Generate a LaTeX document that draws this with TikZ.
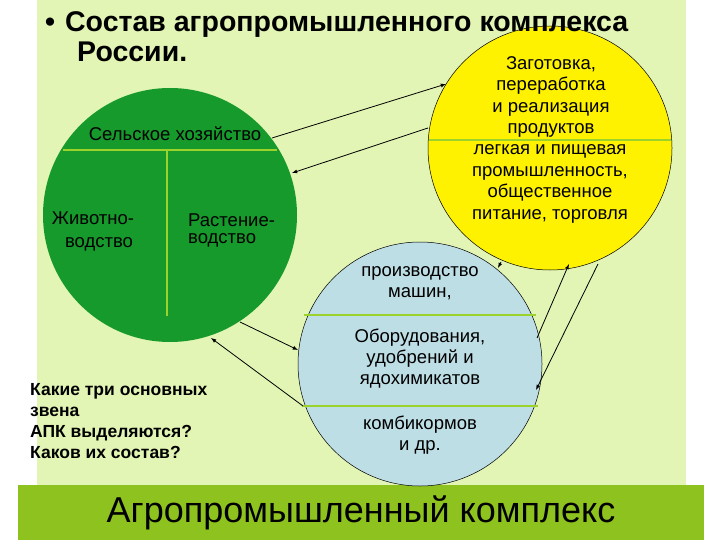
\documentclass[tikz,border=0pt]{standalone}
\usepackage{fontspec}
\setmainfont{Liberation Sans}
\begin{document}
\begin{tikzpicture}[x=1pt,y=-1pt,
 txt/.style={font=\fontsize{18.5}{21.5}\selectfont,align=center,inner sep=0},
 arr/.style={-latex,line width=0.8pt}]
\useasboundingbox (0,0) rectangle (720,540);
\fill[white] (0,0) rectangle (720,540);
\definecolor{bg}{HTML}{E2F5B4}
\fill[bg] (37,0) rectangle (686,485);
\definecolor{bar}{HTML}{8DC21F}
\fill[bar] (18,485) rectangle (704,540);
% circles
\definecolor{dg}{HTML}{169A2C}
\definecolor{ln}{HTML}{9BD32A}
\node[circle,fill=dg,minimum size=254pt,inner sep=0] (g) at (170,215) {};
\node[circle,draw,fill=yellow,minimum size=244pt,inner sep=0,line width=0.5pt] (y) at (550,148) {};
\node[circle,draw,fill={rgb,255:red,190;green,222;blue,230},minimum size=244pt,inner sep=0,line width=0.5pt] (b) at (420,364) {};
\draw[draw=ln,line width=2pt] (63,150) -- (277,150) (167,150) -- (167,316);
\draw[draw=ln,line width=1.5pt] (429,140) -- (671,140);
\draw[draw=ln,line width=1.5pt] (304,315) -- (536,315) (302,406) -- (538,406);
% texts
\node[txt] (t1) at (175,134) {Сельское хозяйство};
\node[txt] (t2) at (93,218) {Животно-};
\node[txt] (t3) at (99,244) {водство};
\node[txt,align=left,anchor=north west,font=\fontsize{18.5}{17}\selectfont] (t4) at (188,214) {Растение-\\водство};
\node[txt,font=\fontsize{18.5}{21.5}\selectfont] (ty1) at (551,97) {Заготовка,\\переработка\\и реализация\\продуктов};
\node[txt,font=\fontsize{18.5}{21.5}\selectfont] (ty2) at (550,184) {легкая и пищевая\\промышленность,\\общественное\\питание, торговля};
\node[txt,font=\fontsize{18.5}{21.5}\selectfont] (tb1) at (420,283) {производство\\машин,};
\node[txt,font=\fontsize{18.5}{21}\selectfont] (tb2) at (420,359) {Оборудования,\\удобрений и\\ядохимикатов};
\node[txt,font=\fontsize{18.5}{20.5}\selectfont] (tb3) at (420,435) {комбикормов\\и др.};
\node[anchor=west,inner sep=0,font=\bfseries\fontsize{28.5}{30}\selectfont,align=left] (ti) at (45,37) {•\hspace{10pt}Состав агропромышленного комплекса\\\hspace{32pt}России.};
\node[anchor=west,inner sep=0,font=\bfseries\fontsize{17.5}{21}\selectfont,align=left] (q) at (30,421) {Какие три основных\\звена\\АПК выделяются?\\Каков их состав?};
\node[inner sep=0,font=\fontsize{36}{38}\selectfont] (bt) at (361,513) {Агропромышленный комплекс};
% arrows
\coordinate (a1) at (272,138); \coordinate (a2) at (446,84);
\coordinate (a3) at (428,128); \coordinate (a4) at (292,173);
\coordinate (a5) at (240,322); \coordinate (a6) at (298,350);
\coordinate (a7) at (303,406); \coordinate (a8) at (211,338);
\coordinate (a9) at (537,338); \coordinate (a10) at (569,264);
\coordinate (a11) at (598,264); \coordinate (a12) at (536,390);
\coordinate (a13) at (501,262); \coordinate (a14) at (498,268);
\draw[arr] (a1) -- (a2);
\draw[arr] (a3) -- (a4);
\draw[arr] (a5) -- (a6);
\draw[arr] (a7) -- (a8);
\draw[arr] (a9) -- (a10);
\draw[arr] (a11) -- (a12);
\draw[arr] (a13) -- (a14);
\end{tikzpicture}
\end{document}
